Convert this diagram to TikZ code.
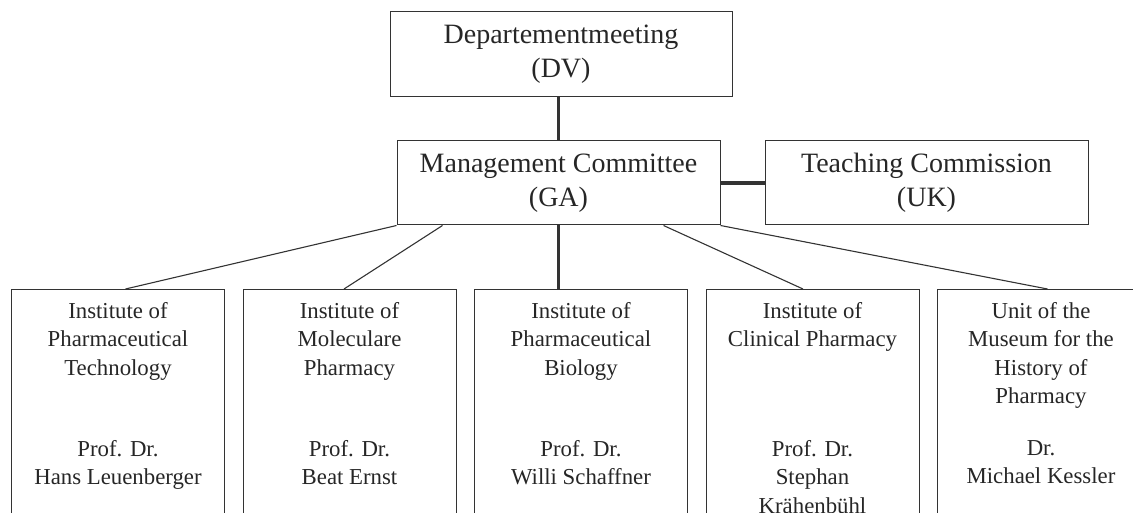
\documentclass[tikz,border=0pt]{standalone}
\usepackage{fontspec}
\setmainfont{Liberation Serif}
\usetikzlibrary{positioning,calc}

\begin{document}
\begin{tikzpicture}[x=1pt,y=1pt,
    board/.style={draw=black!80, line width=1pt, text=black!85, align=center,
        font=\fontsize{28}{34}\selectfont, minimum width=323pt, minimum height=84pt, inner sep=0pt},
    unit/.style={draw=black!80, line width=1pt, minimum width=213pt, minimum height=260pt, inner sep=0pt},
    unittext/.style={text=black!85, align=center, font=\fontsize{22.8}{28.5}\selectfont,
        inner sep=0pt, anchor=north},
    link/.style={draw=black!80, line width=1.1pt},
    mainlink/.style={draw=black!80, line width=3.3pt}]
            \useasboundingbox (0,0) rectangle (1133,512);
            \clip (0,0) rectangle (1133,512);
            % boards
            \node[board] (ga) at (558.5,329) {Management Committee\\(GA)};
            \node[board,
            minimum width = 342pt,
            minimum height = 85pt,
            above = 43pt of ga,
            xshift = 2.5pt] (dv) {Departementmeeting\\(DV)};
            \node[board,
            right = 44pt of ga] (uk) {Teaching Commission\\(UK)};
            % units
            \node[unit, anchor=north west] (inst1) at (11,223) {};
            \node[unit, right = 17.5pt of inst1] (inst2) {};
            \node[unit, right = 17.5pt of inst2] (inst3) {};
            \node[unit, right = 17.5pt of inst3] (inst4) {};
            \node[unit, right = 17.5pt of inst4] (inst5) {};
            \node[unittext] (title1) at ($(inst1.north)+(0,-13)$) {Institute of\\Pharmaceutical\\Technology};
            \node[unittext] (title2) at ($(inst2.north)+(0,-13)$) {Institute of\\Moleculare\\Pharmacy};
            \node[unittext] (title3) at ($(inst3.north)+(0,-13)$) {Institute of\\Pharmaceutical\\Biology};
            \node[unittext] (title4) at ($(inst4.north)+(0,-13)$) {Institute of\\Clinical Pharmacy};
            \node[unittext] (title5) at ($(inst5.north)+(-3,-13)$) {Unit of the\\Museum for the\\History of\\Pharmacy};
            \node[unittext] (head1) at ($(inst1.north)+(0,-151)$) {Prof. Dr.\\Hans Leuenberger};
            \node[unittext] (head2) at ($(inst2.north)+(0,-151)$) {Prof. Dr.\\Beat Ernst};
            \node[unittext] (head3) at ($(inst3.north)+(0,-151)$) {Prof. Dr.\\Willi Schaffner};
            \node[unittext] (head4) at ($(inst4.north)+(0,-151)$) {Prof. Dr.\\Stephan\\Krähenbühl};
            \node[unittext] (head5) at ($(inst5.north)+(-3,-151)$) {Dr.\\Michael Kessler};
            % connectors
            \draw[mainlink] (ga.north) -- (ga.north |- dv.south);
            \draw[mainlink] (ga.east) -- (uk.west);
            \draw[mainlink] (ga.south) -- (ga.south |- inst3.north);
            \draw[link] (ga.south west) -- ($(inst1.north)+(7.5,0)$);
            \draw[link] ($(ga.south west)+(46,0)$) -- ($(inst2.north)+(-5.5,0)$);
            \draw[link] ($(ga.south east)+(-57,0)$) -- ($(inst4.north)+(-9.5,0)$);
            \draw[link] (ga.south east) -- ($(inst5.north)+(3.5,0)$);
        \end{tikzpicture}
\end{document}
